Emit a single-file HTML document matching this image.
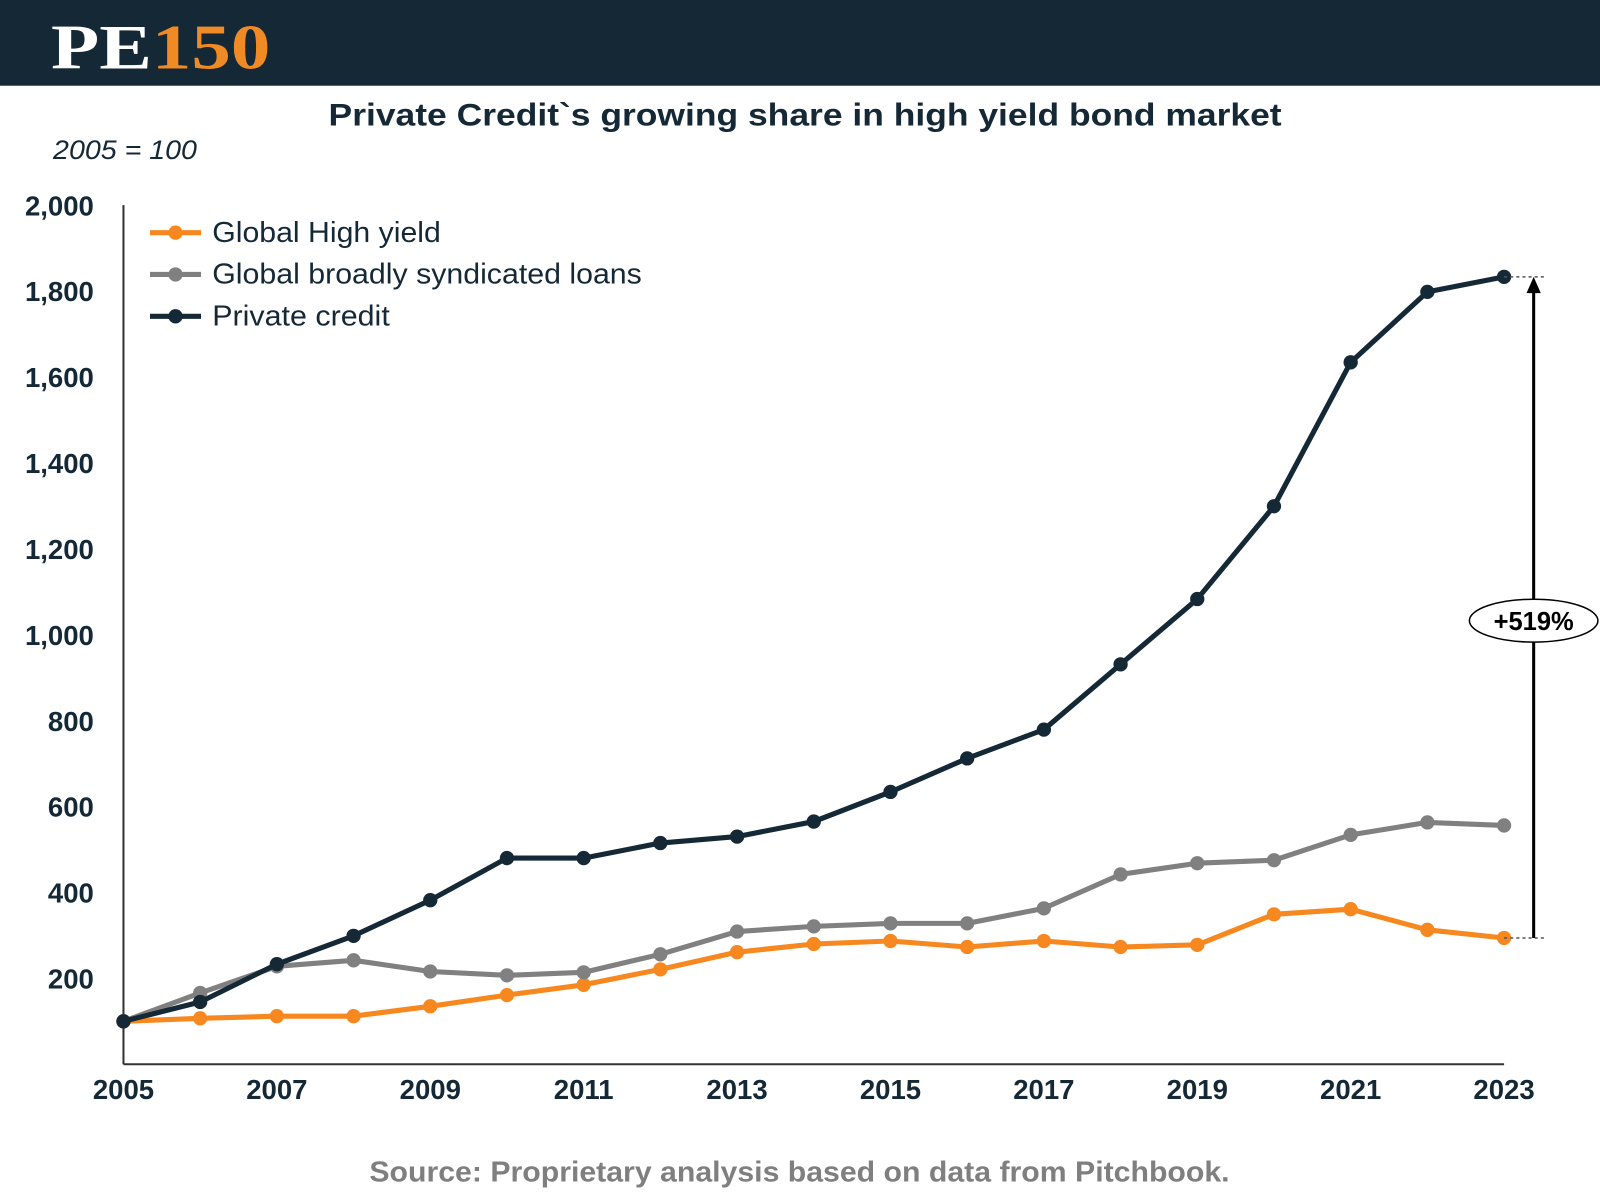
<!DOCTYPE html>
<html><head><meta charset="utf-8"><style>
html,body{margin:0;padding:0;background:#fff;width:1600px;height:1200px;overflow:hidden;font-family:"Liberation Sans",sans-serif}
</style></head><body>
<svg id="chart" width="1600" height="1200" xmlns="http://www.w3.org/2000/svg">
<g transform="scale(1.0204)">
<rect x="0" y="0" width="1570" height="84" fill="#152836"/>
<text x="50" y="67" font-family="Liberation Serif,serif" font-weight="bold" font-size="62" fill="#fff" textLength="215" lengthAdjust="spacingAndGlyphs">PE<tspan fill="#f08a24">150</tspan></text>
<text x="322" y="123" font-weight="bold" font-size="31" fill="#152836" textLength="934" lengthAdjust="spacingAndGlyphs">Private Credit`s growing share in high yield bond market</text>
<text x="52" y="156" font-style="italic" font-size="26" fill="#152836" textLength="141" lengthAdjust="spacingAndGlyphs">2005 = 100</text>
<line x1="121" y1="201" x2="121" y2="1043" stroke="#333" stroke-width="2"/>
<line x1="121" y1="1043" x2="1474" y2="1043" stroke="#333" stroke-width="2"/>
<g id="yticks"></g><g id="xticks"></g><g id="series"></g>
<g>
<g><line x1="147" y1="228" x2="197" y2="228" stroke="#f7881f" stroke-width="5"/><circle cx="172" cy="228" r="7" fill="#f7881f"/><text x="208" y="237" font-size="28" fill="#152836" textLength="224" lengthAdjust="spacingAndGlyphs">Global High yield</text></g>
<g><line x1="147" y1="269" x2="197" y2="269" stroke="#808080" stroke-width="5"/><circle cx="172" cy="269" r="7" fill="#808080"/><text x="208" y="278" font-size="28" fill="#152836" textLength="421" lengthAdjust="spacingAndGlyphs">Global broadly syndicated loans</text></g>
<g><line x1="147" y1="310" x2="197" y2="310" stroke="#152836" stroke-width="5"/><circle cx="172" cy="310" r="7" fill="#152836"/><text x="208" y="319" font-size="28" fill="#152836" textLength="174" lengthAdjust="spacingAndGlyphs">Private credit</text></g>
</g>
<g id="annot"></g>
<text x="362" y="1158" font-weight="bold" font-size="28" fill="#7f7f7f" textLength="843" lengthAdjust="spacingAndGlyphs">Source: Proprietary analysis based on data from  Pitchbook.</text>
</g>
</svg>
<script>
const years=[2005,2006,2007,2008,2009,2010,2011,2012,2013,2014,2015,2016,2017,2018,2019,2020,2021,2022,2023];
const highYield=[100,107,112,112,135,161,185,221,261,280,287,273,287,273,278,349,361,313,294];
const syndicatedLoans=[100,166,228,242,216,207,214,256,309,321,328,328,363,442,468,475,534,563,556];
const privateCredit=[100,145,233,299,382,480,480,515,530,565,634,712,779,931,1083,1299,1634,1798,1833];
const yTicks=[200,400,600,800,1000,1200,1400,1600,1800,2000];
const xTickYears=[2005,2007,2009,2011,2013,2015,2017,2019,2021,2023];
const annotationLabel="+519%";
const NS="http://www.w3.org/2000/svg";
const X=y=>121+(y-2005)*(1474-121)/18;
const Y=v=>1043-v*(1043-201)/2000;
function mk(t,a,p){const e=document.createElementNS(NS,t);for(const k in a)e.setAttribute(k,a[k]);p.appendChild(e);return e;}
const yt=document.getElementById('yticks');
yTicks.forEach(v=>{const t=mk('text',{x:92,y:Y(v)+10,'text-anchor':'end','font-weight':'bold','font-size':27,fill:'#152836'},yt);t.textContent=v.toLocaleString('en-US');

});
const xt=document.getElementById('xticks');
xTickYears.forEach(y=>{const t=mk('text',{x:X(y),y:1077,'text-anchor':'middle','font-weight':'bold','font-size':27,fill:'#152836'},xt);t.textContent=y;

});
const sg=document.getElementById('series');
[[highYield,'#f7881f','high-yield'],[syndicatedLoans,'#808080','syndicated-loans'],[privateCredit,'#152836','private-credit']].forEach(([d,c,n])=>{
const g=mk('g',{},sg);


mk('polyline',{points:d.map((v,i)=>X(years[i])+','+Y(v)).join(' '),fill:'none',stroke:c,'stroke-width':5,'stroke-linejoin':'round'},g);
d.forEach((v,i)=>{const p=mk('circle',{cx:X(years[i]),cy:Y(v),r:7,fill:c},g);

});
});
const an=document.getElementById('annot');
const last=years.length-1,xa=X(years[last])+29,yTop=Y(privateCredit[last]),yBot=Y(highYield[last]);
mk('line',{x1:X(years[last]),y1:yTop,x2:xa+10,y2:yTop,stroke:'#555','stroke-width':1.5,'stroke-dasharray':'3,3'},an);
mk('line',{x1:X(years[last]),y1:yBot,x2:xa+10,y2:yBot,stroke:'#555','stroke-width':1.5,'stroke-dasharray':'3,3'},an);
mk('line',{x1:xa,y1:yBot,x2:xa,y2:yTop+14,stroke:'#000','stroke-width':3},an);
mk('polygon',{points:`${xa-7},${yTop+16} ${xa+7},${yTop+16} ${xa},${yTop}`,fill:'#000'},an);
const ym=(yTop+yBot)/2-15;
mk('ellipse',{cx:xa,cy:ym+28,rx:63,ry:21,fill:'#fff',stroke:'#000','stroke-width':1.5},an);
const lt=mk('text',{x:xa,y:ym+37,'text-anchor':'middle','font-weight':'bold','font-size':25,fill:'#000'},an);lt.textContent=annotationLabel;


</script>
</body></html>
